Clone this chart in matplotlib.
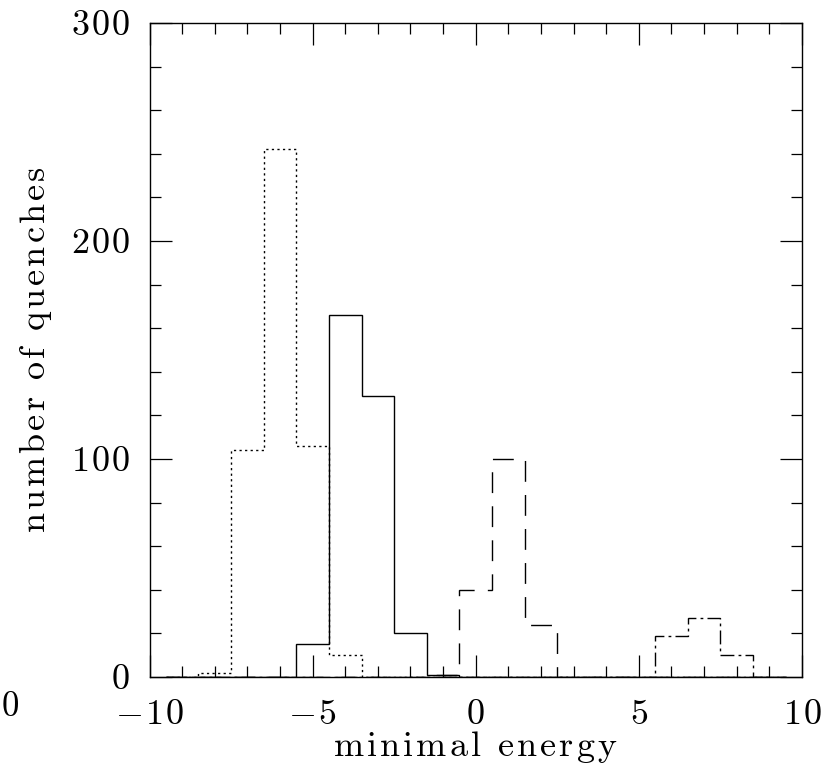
import numpy as np
import matplotlib
matplotlib.use("Agg")
import matplotlib.pyplot as plt
from matplotlib.ticker import MultipleLocator

plt.rcParams['font.family'] = ['cmr10', 'DejaVu Serif']
plt.rcParams['mathtext.fontset'] = 'cm'
plt.rcParams['axes.unicode_minus'] = False

# bin edges (unit-width bins centred on integers -9 .. 9)
edges = np.arange(-9.5, 10.5, 1.0)

# counts per bin centre (-9 .. 9)
dotted_counts = [0, 2, 104, 242, 106, 10, 0, 0, 0, 0, 0, 0, 0, 0, 0, 0, 0, 0, 0]
solid_counts  = [0, 0, 0, 0, 15, 166, 129, 20, 1, 0, 0, 0, 0, 0, 0, 0, 0, 0, 0]
dashed_counts = [0, 0, 0, 0, 0, 0, 0, 0, 1, 40, 100, 24, 0, 0, 0, 0, 0, 0, 0]
dashdot_counts = [0, 0, 0, 0, 0, 0, 0, 0, 0, 0, 0, 0, 0, 0, 0, 19, 27, 10, 0]

xticks = [-10, -5, 0, 5, 10]
xticklabels = ['-10', '-5', '0', '5', '10']
yticks = [0, 100, 200, 300]
yticklabels = ['0', '100', '200', '300']
xlabel = 'minimal energy'
ylabel = 'number of quenches'


def spaced(s, sp):
    """Render text in CM roman with a little extra letter spacing."""
    parts = []
    for ch in s:
        if ch == ' ':
            parts.append(r'\ ')
        elif ch == '-':
            parts.append(r'-')
        else:
            parts.append(r'\mathrm{%s}' % ch)
    return '$' + (r'\hspace{%g}' % sp).join(parts) + '$'


W, H = 826, 771
L, R, T, B = 149.5, 802.0, 23.0, 677.0

fig = plt.figure(figsize=(W / 100, H / 100), dpi=100)
ax = fig.add_axes([L / W, 1 - B / H, (R - L) / W, (B - T) / H])

lw = 1.0
ax.stairs(dotted_counts, edges, color='black', lw=lw, linestyle=(0, (1.6, 2.4)))
ax.stairs(solid_counts, edges, color='black', lw=lw, linestyle='-')
ax.stairs(dashed_counts, edges, color='black', lw=lw, linestyle=(0, (15, 9.5)))
ax.stairs(dashdot_counts, edges, color='black', lw=lw, linestyle=(0, (10, 3, 2, 3)))

ax.set_xlim(-10, 10)
ax.set_ylim(0, 300)
ax.set_xticks(xticks)
ax.set_xticklabels([spaced(t, 0.07) for t in xticklabels])
ax.set_yticks(yticks)
ax.set_yticklabels([spaced(t, 0.07) for t in yticklabels])
ax.xaxis.set_minor_locator(MultipleLocator(1))
ax.yaxis.set_minor_locator(MultipleLocator(20))
ax.tick_params(which='both', direction='in', top=True, right=True, width=0.9, labelsize=26)
ax.tick_params(which='major', length=16)
ax.tick_params(which='minor', length=8)
ax.tick_params(axis='x', pad=16)
ax.tick_params(axis='y', pad=14)
for s in ax.spines.values():
    s.set_linewidth(1.0)

ax.set_xlabel(spaced(xlabel, 0.1), fontsize=26, va='baseline')
ax.xaxis.set_label_coords(0.5, -(756 - B) / (B - T))
ax.set_ylabel(spaced(ylabel, 0.1), fontsize=26, va='baseline', rotation_mode='anchor')
ax.yaxis.set_label_coords(-(L - 45) / (R - L), 0.5)

# stray label at far left edge
fig.text(1.0 / W, 1 - 707 / H, '$0$', fontsize=25, ha='left', va='center')

fig.savefig('out.png', dpi=100)
